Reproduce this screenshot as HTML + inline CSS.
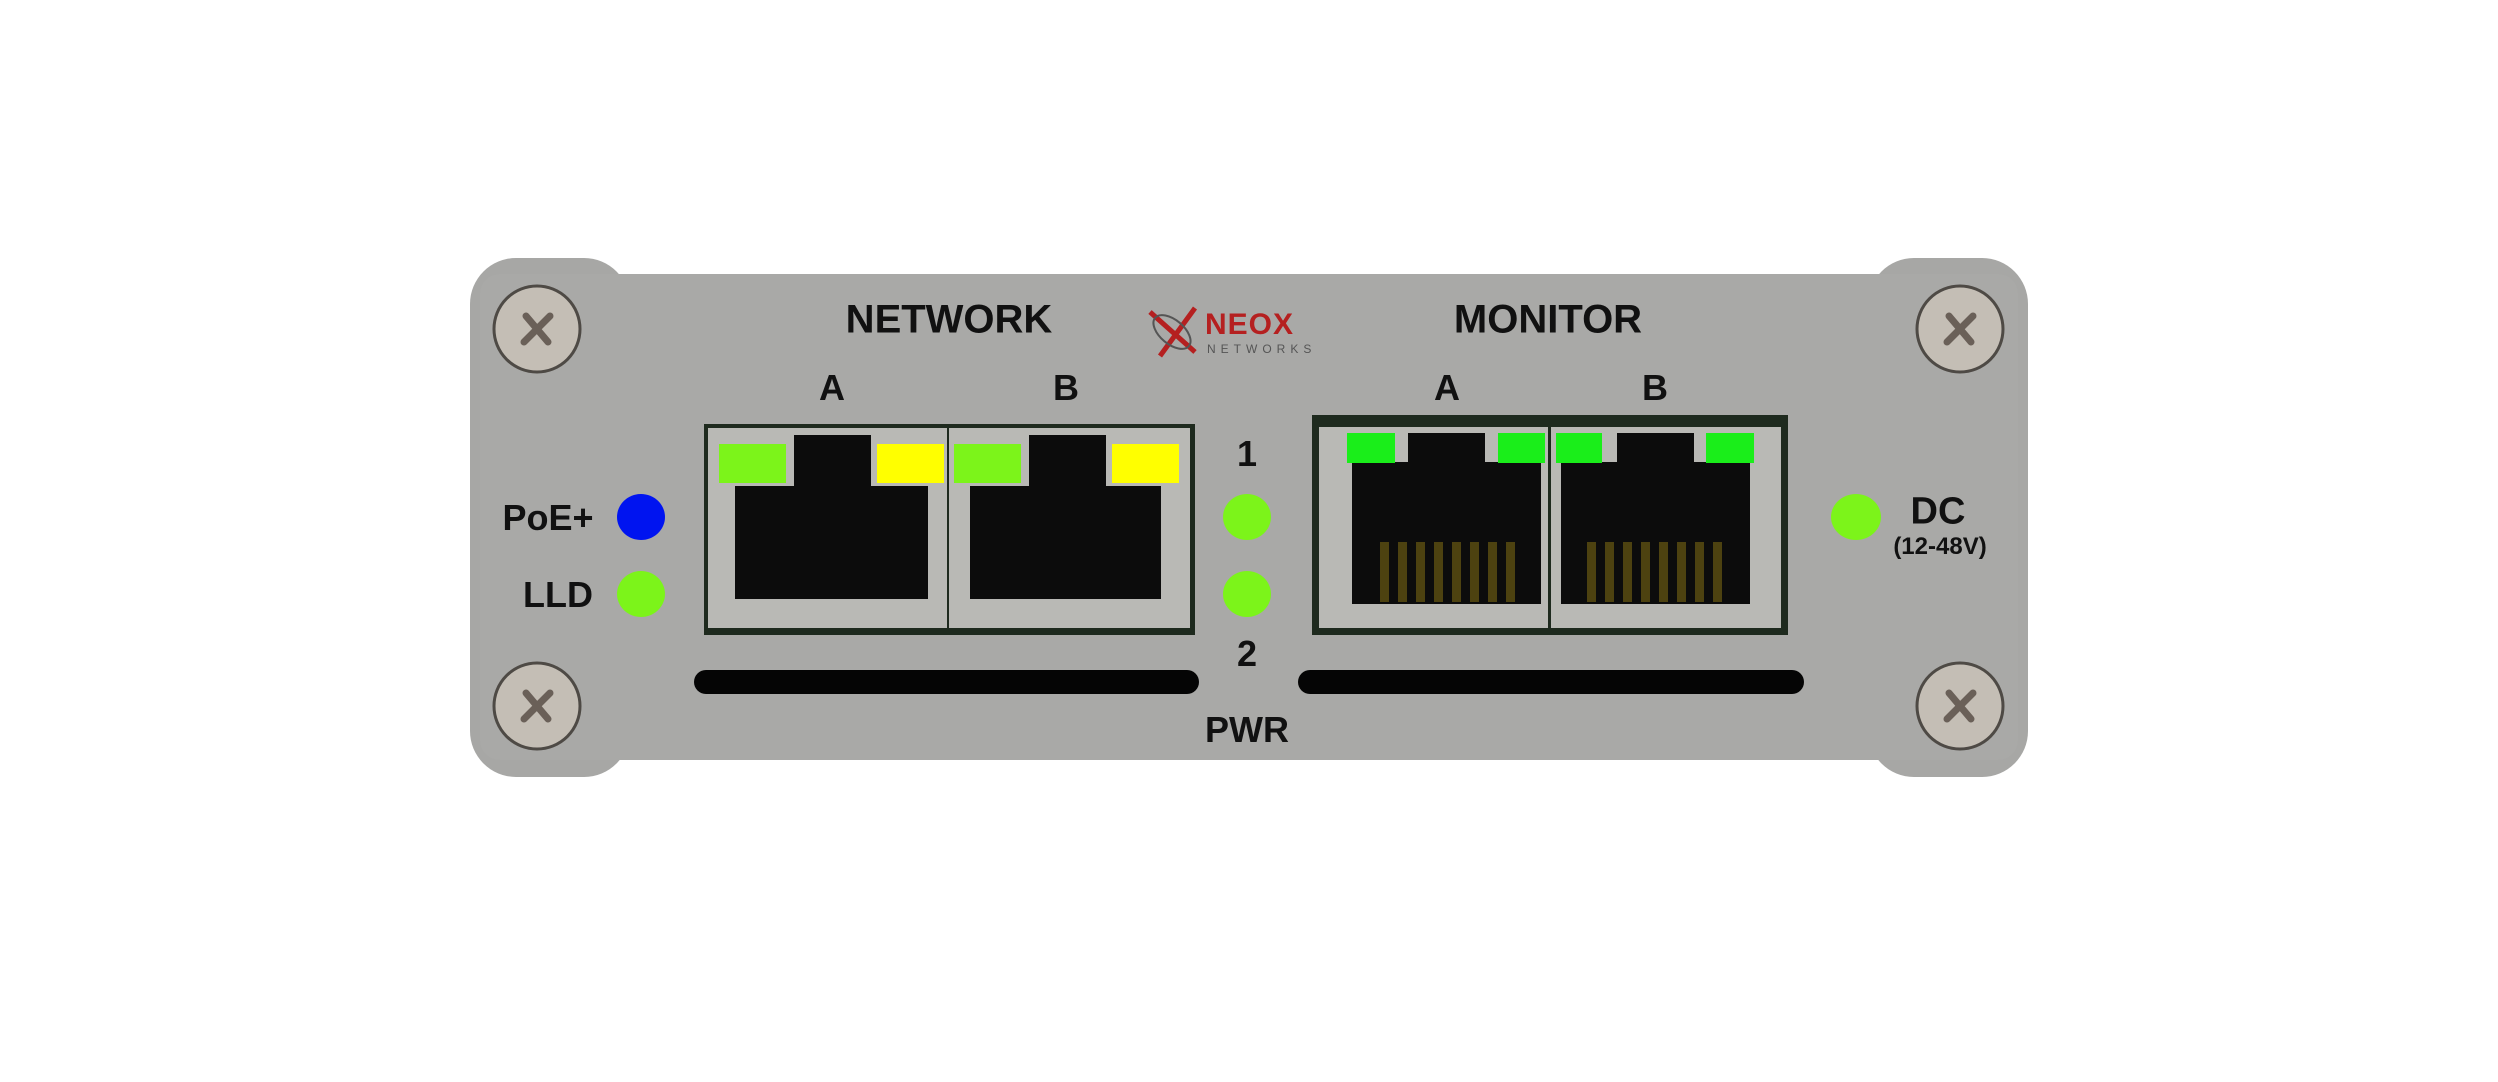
<!DOCTYPE html>
<html><head><meta charset="utf-8"><style>
html,body{margin:0;padding:0;background:#fff;width:2498px;height:1082px;overflow:hidden;position:relative;font-family:"Liberation Sans",sans-serif}
.a{position:absolute}
.t{position:absolute;font-weight:bold;color:#111;white-space:nowrap;transform:translate(-50%,-50%)}
.led{position:absolute;border-radius:50%;}
.blk{position:absolute;background:#0c0c0c}
.sil{position:absolute;background:#b9b9b5}
.pin{position:absolute;background:#4d4210;width:9px;top:542px;height:60px}
</style></head><body>
<div class="a" style="left:470px;top:258px;width:160px;height:519px;background:#a7a7a5;border-radius:46px"></div>
<div class="a" style="left:1868px;top:258px;width:160px;height:519px;background:#a7a7a5;border-radius:46px"></div>
<div class="a" style="left:480px;top:274px;width:1538px;height:486px;background:#a9a9a7;border-radius:20px"></div>
<svg class="a" style="left:0;top:0" width="2498" height="1082">
<g fill="#c4beb5" stroke="#4e4a45" stroke-width="3">
<circle cx="537" cy="329" r="43"/><circle cx="537" cy="706" r="43"/><circle cx="1960" cy="329" r="43"/><circle cx="1960" cy="706" r="43"/>
</g>
<g stroke="#6a6058" stroke-width="7" stroke-linecap="round">
<path d="M526 316 L548 342 M550 316 L524 342"/><path d="M526 693 L548 719 M550 693 L524 719"/>
<path d="M1949 316 L1971 342 M1973 316 L1947 342"/><path d="M1949 693 L1971 719 M1973 693 L1947 719"/>
</g>
<g fill="none" stroke="#b52020" stroke-width="5"><path d="M1150 312 L1195 352 M1195 308 L1160 356"/></g>
<ellipse cx="1172" cy="332" rx="22" ry="12" fill="none" stroke="#555" stroke-width="2" transform="rotate(40 1172 332)"/>
</svg>
<div class="a" style="left:1205px;top:308px;font-size:30px;font-weight:bold;color:#b52020;letter-spacing:1px">NEOX</div>
<div class="a" style="left:1207px;top:342px;font-size:12px;color:#555;letter-spacing:5px">NETWORKS</div>
<div class="t" style="left:949px;top:320px;font-size:40px">NETWORK</div>
<div class="t" style="left:1548px;top:320px;font-size:40px">MONITOR</div>
<div class="t" style="left:832px;top:388px;font-size:36px">A</div>
<div class="t" style="left:1066px;top:388px;font-size:36px">B</div>
<div class="t" style="left:1447px;top:388px;font-size:36px">A</div>
<div class="t" style="left:1655px;top:388px;font-size:36px">B</div>
<div class="t" style="left:1247px;top:454px;font-size:36px">1</div>
<div class="t" style="left:1247px;top:654px;font-size:36px">2</div>
<div class="t" style="left:1247px;top:730px;font-size:36px">PWR</div>
<div class="t" style="left:548px;top:518px;font-size:36px">PoE+</div>
<div class="t" style="left:558px;top:595px;font-size:36px">LLD</div>
<div class="t" style="left:1938px;top:512px;font-size:38px">DC</div>
<div class="t" style="left:1940px;top:547px;font-size:24px">(12-48V)</div>
<div class="led" style="left:617px;top:494px;width:48px;height:46px;background:#0014f0"></div>
<div class="led" style="left:617px;top:571px;width:48px;height:46px;background:#7cf41a"></div>
<div class="led" style="left:1223px;top:494px;width:48px;height:46px;background:#7cf41a"></div>
<div class="led" style="left:1223px;top:571px;width:48px;height:46px;background:#7cf41a"></div>
<div class="led" style="left:1831px;top:494px;width:50px;height:46px;background:#7cf41a"></div>
<div class="a" style="left:704px;top:424px;width:491px;height:211px;background:#1e2a1e"></div>
<div class="sil" style="left:708px;top:428px;width:239px;height:200px"></div>
<div class="sil" style="left:949px;top:428px;width:241px;height:200px"></div>
<div class="blk" style="left:735px;top:486px;width:193px;height:113px"></div>
<div class="blk" style="left:794px;top:435px;width:77px;height:55px"></div>
<div class="blk" style="left:970px;top:486px;width:191px;height:113px"></div>
<div class="blk" style="left:1029px;top:435px;width:77px;height:55px"></div>
<div class="a" style="left:719px;top:444px;width:67px;height:39px;background:#7cf41a"></div>
<div class="a" style="left:877px;top:444px;width:67px;height:39px;background:#ffff00"></div>
<div class="a" style="left:954px;top:444px;width:67px;height:39px;background:#7cf41a"></div>
<div class="a" style="left:1112px;top:444px;width:67px;height:39px;background:#ffff00"></div>
<div class="a" style="left:1312px;top:415px;width:476px;height:220px;background:#1e2a1e"></div>
<div class="sil" style="left:1319px;top:427px;width:229px;height:201px"></div>
<div class="sil" style="left:1551px;top:427px;width:230px;height:201px"></div>
<div class="blk" style="left:1352px;top:462px;width:189px;height:142px"></div>
<div class="blk" style="left:1408px;top:433px;width:77px;height:35px"></div>
<div class="blk" style="left:1561px;top:462px;width:189px;height:142px"></div>
<div class="blk" style="left:1617px;top:433px;width:77px;height:35px"></div>
<div class="a" style="left:1347px;top:433px;width:48px;height:30px;background:#1aee1a"></div>
<div class="a" style="left:1498px;top:433px;width:47px;height:30px;background:#1aee1a"></div>
<div class="a" style="left:1556px;top:433px;width:46px;height:30px;background:#1aee1a"></div>
<div class="a" style="left:1706px;top:433px;width:48px;height:30px;background:#1aee1a"></div>
<div class="pin" style="left:1380px"></div><div class="pin" style="left:1398px"></div><div class="pin" style="left:1416px"></div><div class="pin" style="left:1434px"></div><div class="pin" style="left:1452px"></div><div class="pin" style="left:1470px"></div><div class="pin" style="left:1488px"></div><div class="pin" style="left:1506px"></div>
<div class="pin" style="left:1587px"></div><div class="pin" style="left:1605px"></div><div class="pin" style="left:1623px"></div><div class="pin" style="left:1641px"></div><div class="pin" style="left:1659px"></div><div class="pin" style="left:1677px"></div><div class="pin" style="left:1695px"></div><div class="pin" style="left:1713px"></div>
<div class="a" style="left:694px;top:670px;width:505px;height:24px;background:#050505;border-radius:12px"></div>
<div class="a" style="left:1298px;top:670px;width:506px;height:24px;background:#050505;border-radius:12px"></div>
</body></html>
